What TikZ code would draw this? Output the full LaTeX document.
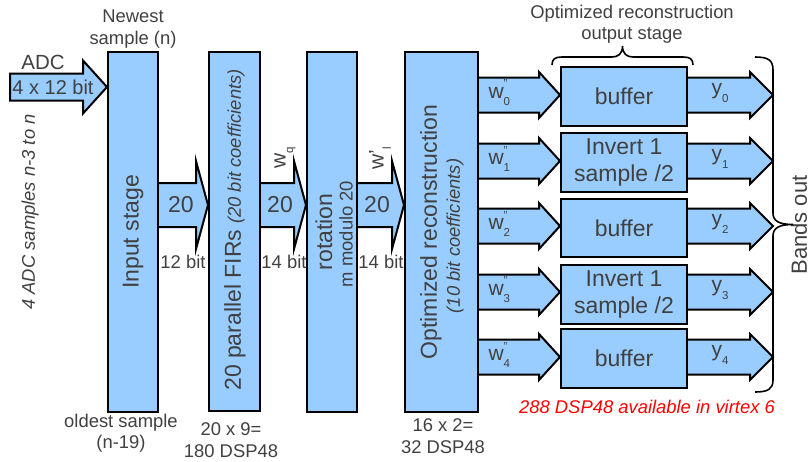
\documentclass[tikz,border=0pt]{standalone}
\usepackage{fontspec}
\setmainfont{Liberation Sans}
\usetikzlibrary{calc}
\definecolor{boxblue}{HTML}{99CCFF}
\definecolor{tx}{HTML}{404040}
\definecolor{redtx}{HTML}{FF0000}
\pgfdeclarelayer{bg}
\pgfsetlayers{bg,main}
\newcommand\fatarrow[5]{%
  \fill[boxblue] ($(#1)+(0,-#3)$) -- ($(#2)+(-#5,-#3)$) -- ($(#2)+(-#5,-#4)$) -- (#2) -- ($(#2)+(-#5,#4)$) -- ($(#2)+(-#5,#3)$) -- ($(#1)+(0,#3)$) -- cycle;
  \draw[ln] ($(#1)+(0,-#3)$) -- ($(#2)+(-#5,-#3)$) -- ($(#2)+(-#5,-#4)$) -- (#2) -- ($(#2)+(-#5,#4)$) -- ($(#2)+(-#5,#3)$) -- ($(#1)+(0,#3)$);}
\newcommand\subfont{\fontsize{11.5}{11.5}\selectfont}
\newcommand\wpp[1]{w\rlap{\raisebox{0.5em}{\subfont "}}\raisebox{-0.35em}{\subfont #1}}
\newcommand\ysb[1]{y\raisebox{-0.35em}{\subfont #1}}
\begin{document}
\begin{tikzpicture}[x=1pt,y=-1pt,
  ln/.style={line width=2pt, draw=black},
  box/.style={draw=black, line width=2pt, fill=boxblue, inner sep=0pt},
  big/.style={text=tx, font=\fontsize{23}{27}\selectfont, align=center},
  sml/.style={text=tx, font=\fontsize{18.4}{21.5}\selectfont, align=center},
  mid/.style={text=tx, font=\fontsize{20.5}{24}\selectfont, align=center},
  ]
\useasboundingbox (0,0) rectangle (811,461);

% main boxes
\node[box, minimum width=50pt, minimum height=360pt] (inp) at (133,232) {};
\node[box, minimum width=51pt, minimum height=359pt] (fir) at (234.5,231.5) {};
\node[box, minimum width=50pt, minimum height=360pt] (rot) at (332,232) {};
\node[box, minimum width=73pt, minimum height=360pt] (rec) at (441.5,232) {};

% output boxes
\node[box, minimum width=126pt, minimum height=59pt] (b0) at (624,96.5) {};
\node[box, minimum width=126pt, minimum height=59pt] (b1) at (624,162) {};
\node[box, minimum width=126pt, minimum height=58pt] (b2) at (624,228) {};
\node[box, minimum width=126pt, minimum height=59pt] (b3) at (624,294) {};
\node[box, minimum width=126pt, minimum height=59pt] (b4) at (624,358) {};

% box texts
\node[big, rotate=90] (tinp) at (133,232) {Input stage};
\node[rotate=90, text=tx] (tfir) at (235,230) {{\fontsize{23}{27}\selectfont 20 parallel FIRs}\hspace{6pt}{\fontsize{18.4}{22}\selectfont\itshape (20 bit coefficients)}};
\node[big, rotate=90] (trot) at (324,232) {rotation};
\node[sml, rotate=90] (trot2) at (346,234) {m modulo 20};
\node[big, rotate=90] (trec) at (431,232) {Optimized reconstruction};
\node[sml, rotate=90, font=\fontsize{18.4}{21.5}\selectfont\itshape] (trec2) at (455,236) {(10 bit coefficients)};
\node[big] (tb0) at (b0) {buffer};
\node[big] (tb1) at (b1) {Invert 1\\sample /2};
\node[big] (tb2) at (b2) {buffer};
\node[big] (tb3) at (b3) {Invert 1\\sample /2};
\node[big] (tb4) at (b4) {buffer};

% arrows
\begin{pgfonlayer}{bg}
  % ADC input arrow
  \coordinate (adcS) at (10,87);
  \coordinate (adcT) at (inp.west |- 0,87);
  \fill[boxblue] ($(adcS)+(0,-13.5)$) -- ($(adcT)+(-24,-13.5)$) -- ($(adcT)+(-24,-26.5)$) -- (adcT) -- ($(adcT)+(-24,26.5)$) -- ($(adcT)+(-24,13.5)$) -- ($(adcS)+(0,13.5)$) -- cycle;
  \draw[ln] ($(adcS)+(0,-13.5)$) -- ($(adcT)+(-24,-13.5)$) -- ($(adcT)+(-24,-26.5)$) -- (adcT) -- ($(adcT)+(-24,26.5)$) -- ($(adcT)+(-24,13.5)$) -- ($(adcS)+(0,13.5)$) -- cycle;
  % stage arrows
  \coordinate (s1) at (inp.east |- 0,205); \coordinate (e1) at (fir.west |- 0,205);
  \coordinate (s2) at (fir.east |- 0,205); \coordinate (e2) at (rot.west |- 0,205);
  \coordinate (s3) at (rot.east |- 0,205); \coordinate (e3) at (rec.west |- 0,205);
  \fatarrow{s1}{e1}{22}{44}{12}
  \fatarrow{s2}{e2}{22}{44}{12}
  \fatarrow{s3}{e3}{22}{44}{12}
  % output arrows
  \foreach \i/\y in {0/95,1/161,2/226,3/292,4/357}{
    \coordinate (ls\i) at (rec.east |- 0,\y);
    \coordinate (le\i) at (b\i.west |- 0,\y);
    \coordinate (rs\i) at (b\i.east |- 0,\y);
    \coordinate (o\i) at (773,\y);
    \fatarrow{ls\i}{le\i}{17.5}{23}{21}
    \fatarrow{rs\i}{o\i}{17.5}{23}{23}
  }
\end{pgfonlayer}

% arrow labels
\node[mid] (ladc) at (43,62) {ADC};
\node[text=tx, font=\fontsize{20}{24}\selectfont] (ladc2) at (53,87) {4 x 12 bit};
\node[big] (n1) at (181,205) {20};
\node[big] (n2) at (280,205) {20};
\node[big] (n3) at (377,205) {20};
\node[sml] (bt1) at (183,262) {12 bit};
\node[sml] (bt2) at (284,262) {14 bit};
\node[sml] (bt3) at (381,262) {14 bit};
\node[text=tx, font=\fontsize{21}{24}\selectfont, rotate=90] (wq) at (285,158) {w\raisebox{-0.35em}{\subfont q}};
\node[text=tx, font=\fontsize{21}{24}\selectfont, rotate=90] (wl) at (380,158) {w'\raisebox{-0.35em}{\subfont l}};
\foreach \i/\y in {0/95,1/161,2/226,3/292,4/357}{
  \node[text=tx, font=\fontsize{21}{24}\selectfont, anchor=west] (w\i) at (485,\y-2) {\wpp{\i}};
  \node[text=tx, font=\fontsize{21}{24}\selectfont] (y\i) at (720,\y-2) {\ysb{\i}};
}

% other texts
\node[sml] (newest) at (133,29) {Newest\\sample (n)};
\node[sml] (oldest) at (121,433) {oldest sample\\(n-19)};
\node[sml] (dsp1) at (231,440) {20 x 9=\\180 DSP48};
\node[sml] (dsp2) at (443,436) {16 x 2=\\32 DSP48};
\node[sml, rotate=90, font=\fontsize{18.4}{21.5}\selectfont\itshape] (adcs) at (30,212) {4 ADC samples n-3 to n};
\node[sml] (ostage) at (632,24) {Optimized reconstruction\\output stage};
\node[text=redtx, font=\fontsize{18.4}{21.5}\selectfont\itshape] (avail) at (647,407) {288 DSP48 available in virtex 6};
\node[text=tx, font=\fontsize{22}{26}\selectfont, rotate=90, inner sep=0pt] (bands) at (799,225) {Bands out};

% braces
\draw[line width=1.6pt] (552,65) .. controls (552,59) and (555,57) .. (562,57) -- (612,57) .. controls (618,57) and (622.5,54) .. (622.5,46) .. controls (622.5,54) and (627,57) .. (633,57) -- (683,57) .. controls (690,57) and (693,59) .. (693,65);
\draw[line width=1.6pt] (755,57) .. controls (768,57) and (773,60) .. (773,70) -- (773,213) .. controls (773,221) and (779,224.5) .. (793,224.5) .. controls (779,224.5) and (773,228) .. (773,236) -- (773,380) .. controls (773,389) and (768,392) .. (755,392);
\end{tikzpicture}
\end{document}
